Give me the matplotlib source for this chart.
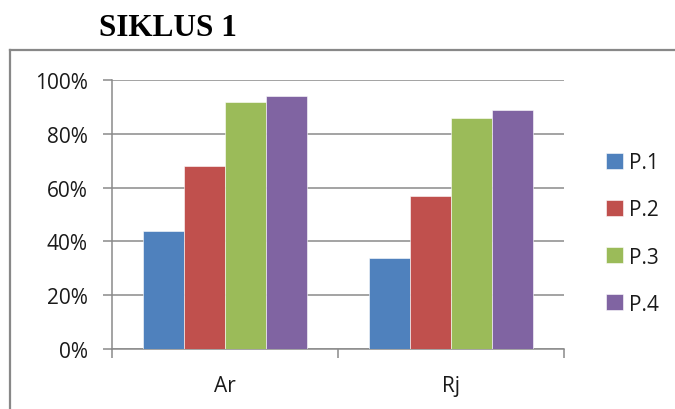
import numpy as np
import matplotlib
matplotlib.use('Agg')
from matplotlib import pyplot as plt
from matplotlib.lines import Line2D

categories = ['Ar', 'Rj']
series_names = ['P.1', 'P.2', 'P.3', 'P.4']
values = {
    'P.1': [44, 34],
    'P.2': [68, 57],
    'P.3': [92, 86],
    'P.4': [94, 89],
}
y_ticks = [0, 20, 40, 60, 80, 100]
y_labels = ['0%', '20%', '40%', '60%', '80%', '100%']
colors = ['#4F81BD', '#C0504D', '#9BBB59', '#8064A2']

grey = '#8A8A8A'
txt = '#1A1A1A'
plt.rcParams['font.family'] = ['Open Sans', 'DejaVu Sans']

fig = plt.figure(figsize=(6.75, 4.1), dpi=100)
ax = fig.add_axes([112 / 675, 60 / 410, 452 / 675, 269 / 410])

x = np.arange(len(categories))
bar_w = 0.1815
for i, name in enumerate(series_names):
    ax.bar(x + (i - 1.5) * bar_w, values[name], width=bar_w, color=colors[i],
           edgecolor='#FFFFFF', linewidth=0.4, label=name, zorder=3)

ax.set_xlim(-0.5, 1.5)
ax.set_ylim(0, 100)
ax.set_yticks(y_ticks)
ax.set_yticklabels(y_labels)
ax.grid(True, axis='y', color=grey, linewidth=1.1, zorder=0)

# границы категорий как большие деления, подписи как малые
ax.set_xticks([-0.5, 0.5, 1.5])
ax.set_xticklabels(['', '', ''])
ax.set_xticks(x, minor=True)
ax.set_xticklabels(categories, minor=True)
ax.tick_params(axis='x', which='major', length=6.5, width=1.1, color=grey, direction='out')
ax.tick_params(axis='x', which='minor', length=0, pad=19, labelsize=15, labelcolor=txt)
ax.tick_params(axis='y', length=6.5, width=1.1, color=grey, pad=11, labelsize=15,
               labelcolor=txt)

for side in ['top', 'right']:
    ax.spines[side].set_visible(False)
for side in ['left', 'bottom']:
    ax.spines[side].set_color(grey)
    ax.spines[side].set_linewidth(1.1)

leg = ax.legend(loc='center left', bbox_to_anchor=(606 / 675, 175.5 / 410),
                bbox_transform=fig.transFigure, frameon=False, fontsize=15,
                handlelength=0.8, handleheight=0.8, handletextpad=0.3,
                labelspacing=1.25, borderpad=0, borderaxespad=0)
for t in leg.get_texts():
    t.set_color(txt)

# рамка диаграммы
fig.add_artist(Line2D([10 / 675, 1], [359 / 410, 359 / 410], color='#888888',
                      linewidth=1.6, transform=fig.transFigure))
fig.add_artist(Line2D([10 / 675, 10 / 675], [0, 359 / 410], color='#888888',
                      linewidth=1.6, transform=fig.transFigure))

fig.text(168 / 675, 382 / 410, 'SIKLUS 1', ha='center', va='center',
         fontsize=22.5, fontweight='bold', family='Liberation Serif')

fig.savefig('out.png', dpi=100)
